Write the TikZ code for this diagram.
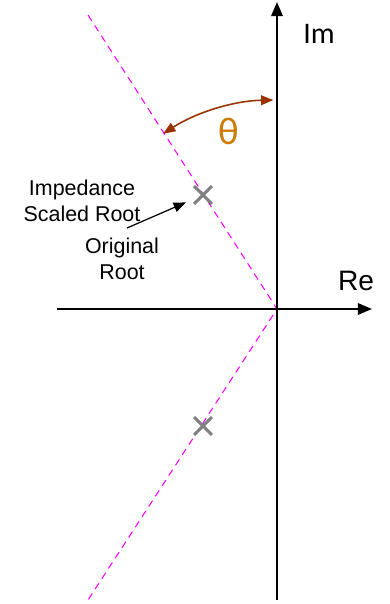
\documentclass[tikz,border=0pt]{standalone}
\usepackage{fontspec}
\setmainfont{Liberation Sans}
\newfontfamily\calibri{Carlito}
\usetikzlibrary{arrows.meta,shapes.misc}
\definecolor{arcbrown}{RGB}{153,51,0}
\definecolor{thetaorange}{RGB}{204,122,0}
\definecolor{locusmagenta}{RGB}{255,0,255}

\begin{document}
\begin{tikzpicture}[x=0.02cm, y=-0.02cm, >={Triangle[length=8pt,width=6.5pt]},
  axis/.style={line width=1.1pt},
  locus/.style={locusmagenta, dash pattern=on 4pt off 3pt, line width=0.6pt},
  root/.style={cross out, draw=gray, line width=1.7pt, minimum size=0.3cm, inner sep=0pt},
  lbl/.style={align=center, font=\fontsize{12.2}{14.5}\selectfont}]
  \useasboundingbox (0,0) rectangle (389,604);
  \coordinate (O) at (277,309);
  \coordinate (imlo) at (277,600);
  \coordinate (imhi) at (277,2);
  \coordinate (relo) at (57,309);
  \coordinate (rehi) at (372,309);
  \coordinate (lineA) at (88,15);
  \coordinate (lineB) at (88,600);
  % constant damping lines
  \draw[locus] (lineA) -- (O) -- (lineB);
  % axes
  \draw[axis,->] (imlo) -- (imhi);
  \draw[axis,->] (relo) -- (rehi);
  \node[font=\calibri\fontsize{17}{20}\selectfont] (im) at (319,34) {Im};
  \node[font=\fontsize{16}{19}\selectfont] (re) at (356,281) {Re};
  % roots
  \node[root] (rootA) at (203,195) {};
  \node[root] (rootB) at (203,426) {};
  % angle
  \draw[arcbrown, line width=0.9pt, {Triangle[length=7pt,width=5.5pt]}-{Triangle[length=7pt,width=5.5pt]}]
    (O) ++(-91:209) arc[start angle=-91, end angle=-123, radius=209];
  \node[thetaorange, font=\calibri\fontsize{22}{24}\selectfont] (theta) at (229,131) {θ};
  % labels
  \node[lbl] (scaled) at (82,201) {Impedance\\Scaled Root};
  \node[lbl] (orig) at (122,259) {Original\\Root};
  \coordinate (tail) at (127,228);
  \draw[->, line width=0.7pt, >={Triangle[length=7pt,width=5.5pt]}, shorten >=5pt] (tail) -- (rootA);
\end{tikzpicture}
\end{document}
